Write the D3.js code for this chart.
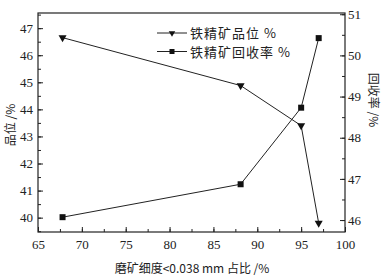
<!DOCTYPE html>
<html>
<head>
<meta charset="utf-8">
<script src="https://cdn.jsdelivr.net/npm/d3@7"></script>
<style>
  body { margin: 0; background: #fff; }
  text { fill: #222; }
  .num text { font-family: "Liberation Serif", "Times New Roman", "DejaVu Serif", serif; }
</style>
</head>
<body>
<svg id="chart" width="384" height="279"></svg>
<script>
var fineness = [67.8, 88.1, 95.0, 97.0]
var grade = [46.65, 44.88, 43.4, 39.8]
var recovery = [46.07, 46.87, 48.73, 50.42]
var xTicks = [65, 70, 75, 80, 85, 90, 95, 100]
var leftTicks = [40, 41, 42, 43, 44, 45, 46, 47]
var rightTicks = [46, 47, 48, 49, 50, 51]

var svg = d3.select('#chart')
var m = {l: 38, r: 345, t: 13, b: 232}
var cjk = 'Noto Sans CJK SC, sans-serif'

var x = d3.scaleLinear().domain([65, 100]).range([m.l, m.r])
var yL = d3.scaleLinear().domain([39.47, 47.56]).range([m.b, m.t])
var yR = d3.scaleLinear().domain([45.71, 51.03]).range([m.b, m.t])

function styleAxis(g) {
  g.attr('class', 'num').attr('font-family', null).attr('font-size', 13)
  g.select('.domain').remove()
  g.selectAll('line').attr('stroke', '#222')
  g.selectAll('text').attr('fill', '#222')
}

// minor ticks
svg.append('g').attr('transform', 'translate(0,' + m.b + ')')
  .call(d3.axisBottom(x).tickValues(d3.range(65, 100.1, 2.5)).tickSize(-3).tickFormat(''))
  .call(styleAxis)
svg.append('g').attr('transform', 'translate(' + m.l + ',0)')
  .call(d3.axisLeft(yL).tickValues(d3.range(39.5, 47.6, 0.5)).tickSize(-3).tickFormat(''))
  .call(styleAxis)
svg.append('g').attr('transform', 'translate(' + m.r + ',0)')
  .call(d3.axisRight(yR).tickValues(d3.range(46, 51.1, 0.5)).tickSize(-3).tickFormat(''))
  .call(styleAxis)

// major ticks
svg.append('g').attr('transform', 'translate(0,' + m.b + ')')
  .call(d3.axisBottom(x).tickValues(xTicks).tickSize(-5).tickPadding(8).tickFormat(d3.format('d')))
  .call(styleAxis)
svg.append('g').attr('transform', 'translate(' + m.l + ',0)')
  .call(d3.axisLeft(yL).tickValues(leftTicks).tickSize(-5).tickPadding(5).tickFormat(d3.format('d')))
  .call(styleAxis)
svg.append('g').attr('transform', 'translate(' + m.r + ',0)')
  .call(d3.axisRight(yR).tickValues(rightTicks).tickSize(-5).tickPadding(3).tickFormat(d3.format('d')))
  .call(styleAxis)

// frame
svg.append('rect').attr('x', m.l).attr('y', m.t)
  .attr('width', m.r - m.l).attr('height', m.b - m.t)
  .attr('fill', 'none').attr('stroke', '#222').attr('stroke-width', 1.2)

var tri = d3.symbol().type(d3.symbolTriangle).size(28)

var gradeLine = d3.line().x(function(d, i) { return x(fineness[i]) }).y(function(d) { return yL(d) })
var recLine = d3.line().x(function(d, i) { return x(fineness[i]) }).y(function(d) { return yR(d) })

svg.append('path').attr('d', gradeLine(grade)).attr('fill', 'none').attr('stroke', '#222').attr('stroke-width', 1)
svg.append('path').attr('d', recLine(recovery)).attr('fill', 'none').attr('stroke', '#222').attr('stroke-width', 1)

svg.selectAll('.tri').data(grade).enter().append('path')
  .attr('d', tri)
  .attr('transform', function(d, i) { return 'translate(' + x(fineness[i]) + ',' + yL(d) + ') rotate(180)' })
  .attr('fill', '#111')
svg.selectAll('.sq').data(recovery).enter().append('rect')
  .attr('x', function(d, i) { return x(fineness[i]) - 3 })
  .attr('y', function(d) { return yR(d) - 3 })
  .attr('width', 6).attr('height', 6)
  .attr('fill', '#111')

// legend
var legend = [{name: '铁精矿品位 %', sym: 'tri'}, {name: '铁精矿回收率 %', sym: 'sq'}]
legend.forEach(function(d, i) {
  var ly = 33 + i * 18.5
  var g = svg.append('g')
  g.append('line').attr('x1', 157).attr('x2', 187).attr('y1', ly).attr('y2', ly).attr('stroke', '#222')
  if (d.sym == 'tri') {
    g.append('path').attr('d', d3.symbol().type(d3.symbolTriangle).size(18))
      .attr('transform', 'translate(172,' + ly + ') rotate(180)').attr('fill', '#111')
  } else {
    g.append('rect').attr('x', 169.5).attr('y', ly - 2.5).attr('width', 5).attr('height', 5).attr('fill', '#111')
  }
  g.append('text').attr('x', 190).attr('y', ly + 5)
    .attr('font-family', cjk).attr('font-size', 13).style('letter-spacing', '1px')
    .text(d.name)
})

// axis titles
svg.append('text').attr('transform', 'translate(15,125) rotate(-90)')
  .attr('text-anchor', 'middle').attr('font-family', cjk).attr('font-size', 12)
  .text('品位 /%')
svg.append('text').attr('transform', 'translate(369,100) rotate(90)')
  .attr('text-anchor', 'middle').attr('font-family', cjk).attr('font-size', 12)
  .text('回收率 /%')
svg.append('text').attr('x', 192).attr('y', 273)
  .attr('text-anchor', 'middle').attr('font-family', cjk).attr('font-size', 12)
  .text('磨矿细度<0.038 mm 占比 /%')
</script>
</body>
</html>
